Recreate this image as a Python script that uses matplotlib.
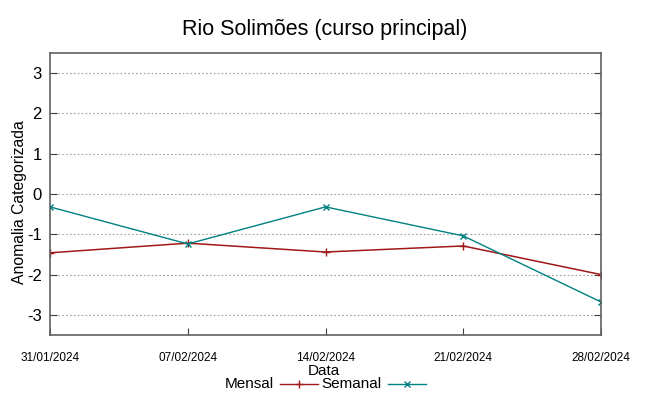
import matplotlib
matplotlib.use('Agg')
import matplotlib.pyplot as plt
from matplotlib.lines import Line2D
import datetime as dt

dates = ['31/01/2024', '07/02/2024', '14/02/2024', '21/02/2024', '28/02/2024']
mensal = [-1.46, -1.22, -1.44, -1.29, -2.0]
semanal = [-0.32, -1.24, -0.32, -1.04, -2.68]
yticks = [-3, -2, -1, 0, 1, 2, 3]

x = [dt.datetime.strptime(d, '%d/%m/%Y') for d in dates]

matplotlib.rc('font', family='Liberation Sans')

fig = plt.figure(figsize=(6.49, 3.96), dpi=100)
ax = fig.add_axes([50/649, 1-335/396, 551/649, 282/396])

c_m = '#a01818'
c_s = '#008080'
ax.plot(x, mensal, color=c_m, lw=1.1, marker='+', ms=6, mew=1.0)
ax.plot(x, semanal, color=c_s, lw=1.0, marker='x', ms=5, mew=1.0)

ax.set_xlim(x[0], x[-1])
ax.set_ylim(-3.5, 3.5)
ax.set_yticks(yticks)
ax.set_yticklabels([str(v) for v in yticks], fontsize=12)
ax.set_xticks(x)
ax.set_xticklabels(dates, fontsize=8.5)
ax.tick_params(axis='x', direction='in', length=5, pad=12, color='#404040')
ax.tick_params(axis='y', direction='in', length=5, right=True, color='#404040', pad=6)
ax.grid(axis='y', color='#a0a0a0', linestyle=(0, (1.5, 2)), lw=0.8)
for s in ax.spines.values():
    s.set_color('#606060')
    s.set_linewidth(1.2)

ax.set_ylabel('Anomalia Categorizada', fontsize=11.3)
ax.yaxis.set_label_coords(-23/551, (335-202)/282)
fig.text(324/649, 1-371/396, 'Data', ha='center', va='center', fontsize=11)
fig.suptitle('Rio Solimões (curso principal)', y=1-19/396, fontsize=15.5)

# legend (gnuplot-style, horizontal)
ly = 1-384/396
fig.text(274/649, ly, 'Mensal', ha='right', va='center', fontsize=11)
fig.text(381/649, ly, 'Semanal', ha='right', va='center', fontsize=11)
fig.add_artist(Line2D([280/649, 318/649], [ly, ly], color=c_m, lw=1.0))
fig.add_artist(Line2D([299/649], [ly], color=c_m, marker='+', ms=6, mew=1.0))
fig.add_artist(Line2D([388/649, 426/649], [ly, ly], color=c_s, lw=1.0))
fig.add_artist(Line2D([407/649], [ly], color=c_s, marker='x', ms=5, mew=1.0))

plt.savefig('out.png', dpi=100)
